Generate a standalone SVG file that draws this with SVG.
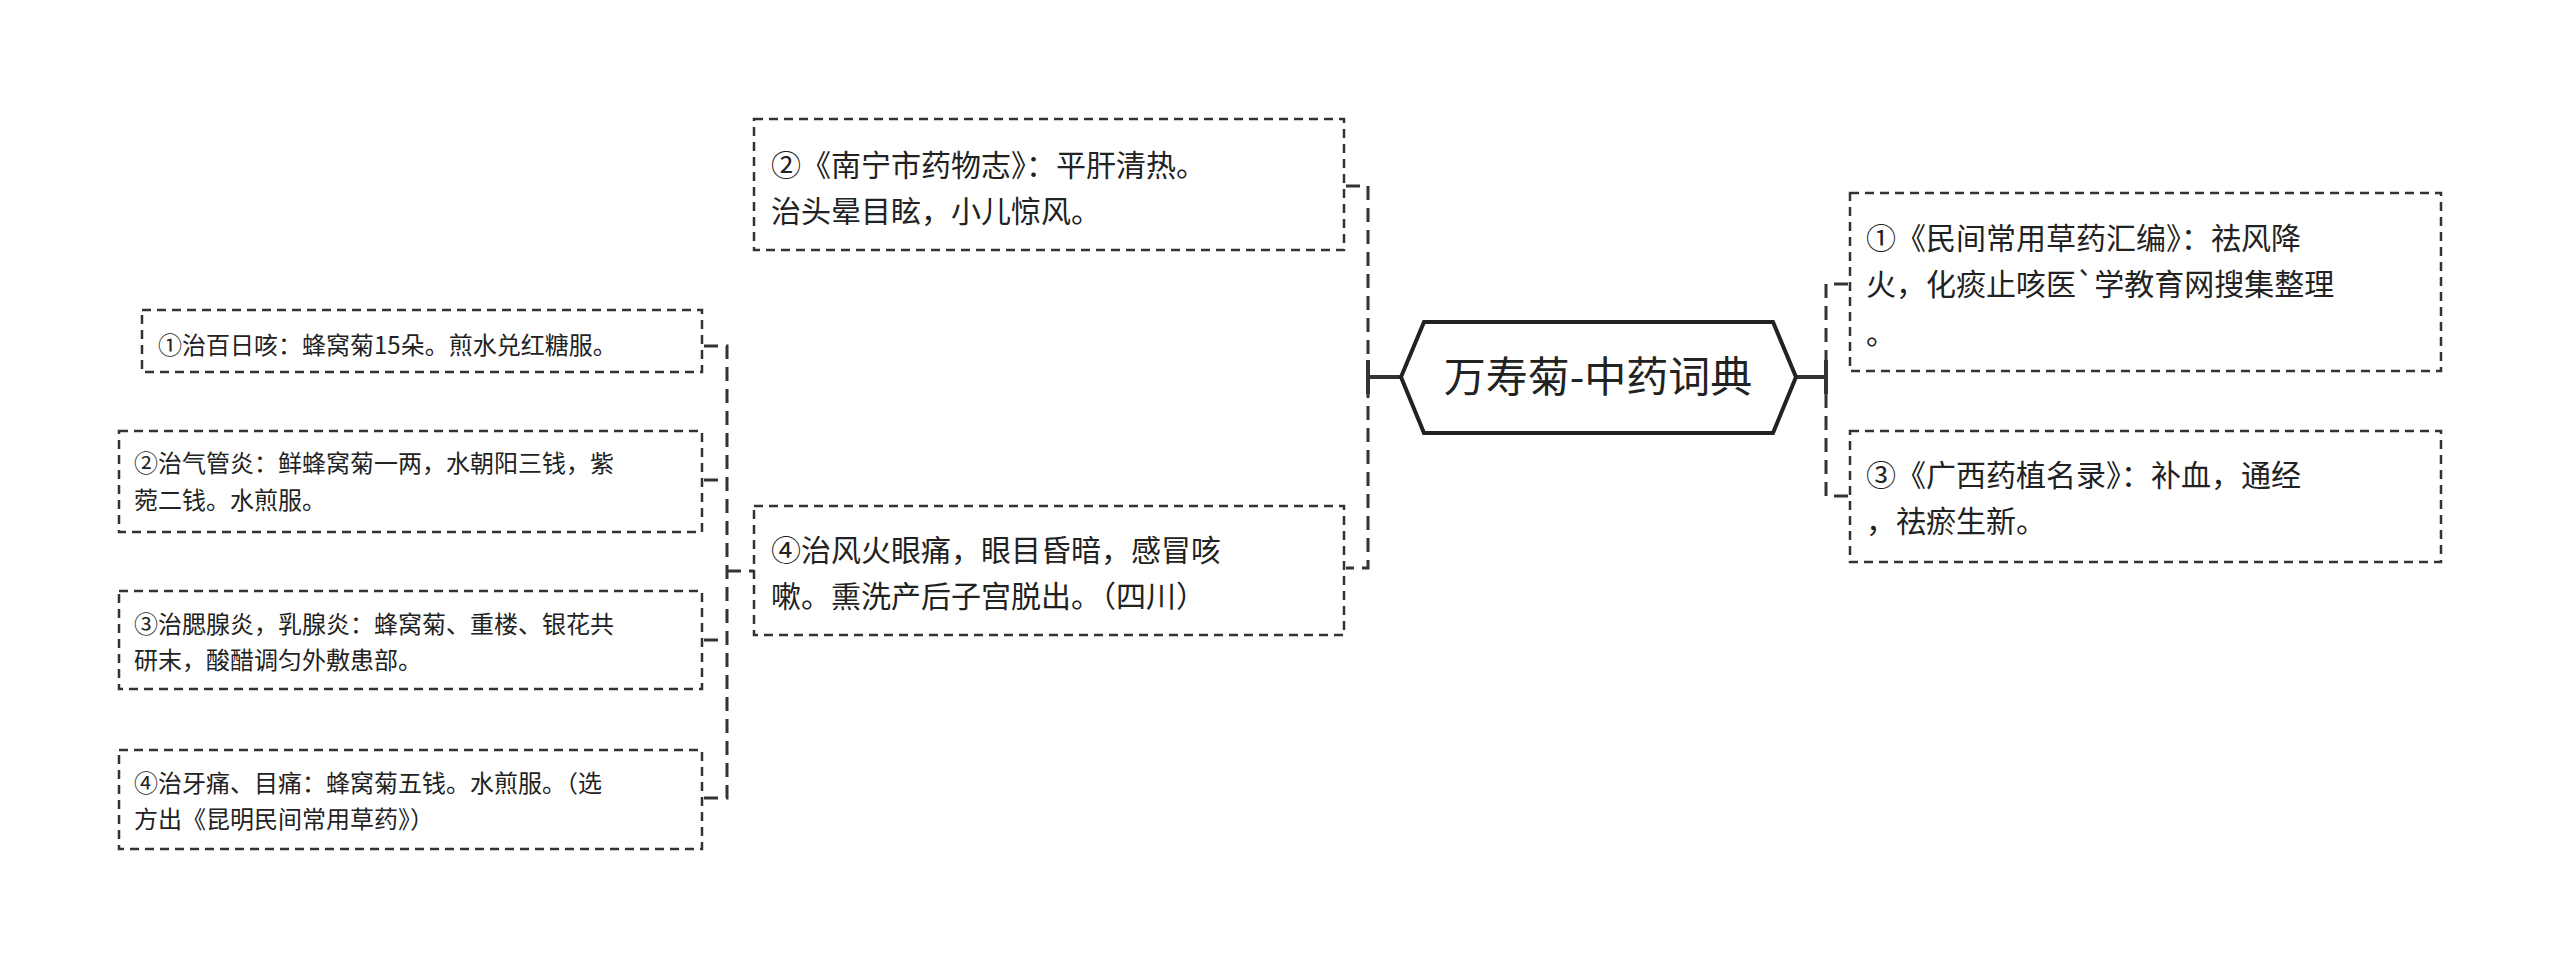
<svg xmlns="http://www.w3.org/2000/svg" width="2560" height="968" viewBox="0 0 2560 968">
<style>
.box{fill:#fff;stroke:#333;stroke-width:2.5;stroke-dasharray:9 6}
.c{fill:none;stroke:#333;stroke-width:3;stroke-dasharray:14 8}
text{font-family:"Noto Sans CJK SC","Liberation Sans",sans-serif;fill:#222}
.m{font-size:30px}.s{font-size:24px}
</style>
<rect width="2560" height="968" fill="#fff"/>
<g id="connectors">
<path class="c" d="M1346 186H1368V568H1346"/>
<path d="M1368 377H1401" stroke="#333" stroke-width="4"/>
<path d="M1368 360V394" stroke="#333" stroke-width="4"/>
<path class="c" d="M1848 284H1826V496H1848"/>
<path d="M1796 377H1826M1826 360V394" stroke="#333" stroke-width="4"/>
<path class="c" d="M704 346H727V798H704M704 480H727M704 640H727M727 571H754"/>
</g>
<g id="center">
<path d="M1401 377L1424 322H1773L1796 377L1773 433H1424Z" fill="#fff" stroke="#222" stroke-width="4"/>
<text x="1598" y="392" font-size="42" text-anchor="middle">万寿菊-中药词典</text>
</g>
<g id="r1"><rect class="box" x="1850" y="193" width="591" height="178"/>
<text class="m" x="1866" y="249">①《民间常用草药汇编》：祛风降</text>
<text class="m" x="1866" y="295">火，化痰止咳医`学教育网搜集整理</text>
<text class="m" x="1866" y="344">。</text></g>
<g id="r3"><rect class="box" x="1850" y="431" width="591" height="131"/>
<text class="m" x="1866" y="486">③《广西药植名录》：补血，通经</text>
<text class="m" x="1866" y="532">，祛瘀生新。</text></g>
<g id="l2"><rect class="box" x="754" y="119" width="590" height="131"/>
<text class="m" x="771" y="176">②《南宁市药物志》：平肝清热。</text>
<text class="m" x="771" y="222">治头晕目眩，小儿惊风。</text></g>
<g id="l4"><rect class="box" x="754" y="506" width="590" height="129"/>
<text class="m" x="771" y="561">④治风火眼痛，眼目昏暗，感冒咳</text>
<text class="m" x="771" y="607">嗽。熏洗产后子宫脱出。（四川）</text></g>
<g id="a1"><rect class="box" x="142" y="310" width="560" height="62"/>
<text class="s" x="158" y="354">①治百日咳：蜂窝菊15朵。煎水兑红糖服。</text></g>
<g id="a2"><rect class="box" x="119" y="431" width="583" height="101"/>
<text class="s" x="134" y="472">②治气管炎：鲜蜂窝菊一两，水朝阳三钱，紫</text>
<text class="s" x="134" y="509">菀二钱。水煎服。</text></g>
<g id="a3"><rect class="box" x="119" y="591" width="583" height="98"/>
<text class="s" x="134" y="633">③治腮腺炎，乳腺炎：蜂窝菊、重楼、银花共</text>
<text class="s" x="134" y="669">研末，酸醋调匀外敷患部。</text></g>
<g id="a4"><rect class="box" x="119" y="750" width="583" height="99"/>
<text class="s" x="134" y="792">④治牙痛、目痛：蜂窝菊五钱。水煎服。（选</text>
<text class="s" x="134" y="828">方出《昆明民间常用草药》）</text></g>
</svg>
